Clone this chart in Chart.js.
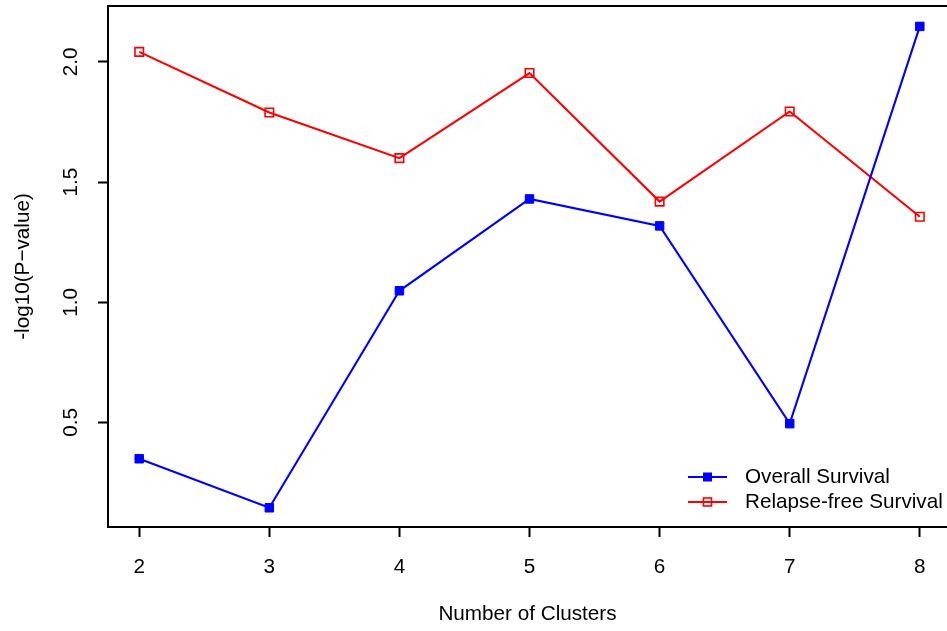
<!DOCTYPE html>
<html>
<head>
<meta charset="utf-8">
<script src="https://cdn.jsdelivr.net/npm/chart.js@4"></script>
<style>
  html, body { margin: 0; padding: 0; background: #fff; overflow: hidden; }
  #wrap { width: 947px; height: 631px; }
</style>
</head>
<body>
<div id="wrap"><canvas id="chart" width="947" height="631"></canvas></div>
<script>
const clusters = [2, 3, 4, 5, 6, 7, 8];
const overallSurvival = [0.349, 0.145, 1.048, 1.430, 1.318, 0.495, 2.148];
const relapseFree = [2.042, 1.790, 1.600, 1.954, 1.419, 1.794, 1.356];
const xTicks = [2, 3, 4, 5, 6, 7, 8];
const yTicks = [0.5, 1.0, 1.5, 2.0];
const yTickLabels = ['0.5', '1.0', '1.5', '2.0'];

const FONT = '"Liberation Sans", Arial, Helvetica, sans-serif';
const FSIZE = 20.7;

// box round the plot + rotated y labels + legend, drawn like R does it
const rStyle = {
  id: 'rStyle',
  afterDraw(chart) {
    const { ctx, chartArea: a } = chart;
    const y = chart.scales.y;
    ctx.save();
    ctx.strokeStyle = '#000';
    ctx.lineWidth = 2;
    ctx.beginPath();
    ctx.moveTo(a.right + 10, a.top);
    ctx.lineTo(a.left, a.top);
    ctx.lineTo(a.left, a.bottom);
    ctx.lineTo(a.right + 10, a.bottom);
    ctx.stroke();

    ctx.fillStyle = '#000';
    ctx.font = FSIZE + 'px ' + FONT;
    ctx.textAlign = 'center';
    ctx.textBaseline = 'middle';
    yTicks.forEach((v, i) => {
      ctx.save();
      ctx.translate(71.5, y.getPixelForValue(v));
      ctx.rotate(-Math.PI / 2);
      ctx.fillText(yTickLabels[i], 0, 0);
      ctx.restore();
    });

    // legend
    const rows = [477, 502];
    chart.data.datasets.forEach((ds, i) => {
      const ly = rows[i];
      ctx.strokeStyle = ds.borderColor;
      ctx.lineWidth = 2;
      ctx.beginPath();
      ctx.moveTo(688, ly);
      ctx.lineTo(727, ly);
      ctx.stroke();
      if (ds.pointBackgroundColor !== 'rgba(0,0,0,0)') {
        ctx.fillStyle = ds.borderColor;
        ctx.fillRect(703, ly - 4.5, 9, 9);
      } else {
        ctx.lineWidth = 1.6;
        ctx.strokeRect(703.5, ly - 4, 8, 8);
      }
      ctx.fillStyle = '#000';
      ctx.textAlign = 'left';
      ctx.fillText(ds.label, 745, ly);
    });
    ctx.restore();
  }
};

new Chart(document.getElementById('chart'), {
  type: 'line',
  data: {
    datasets: [
      {
        label: 'Overall Survival',
        data: clusters.map((c, i) => ({ x: c, y: overallSurvival[i] })),
        borderColor: '#0000ff',
        pointBackgroundColor: '#0000ff',
        pointBorderColor: '#0000ff',
        pointStyle: 'rect',
        pointRadius: 6,
        pointBorderWidth: 1,
        borderWidth: 2.1,
      },
      {
        label: 'Relapse-free Survival',
        data: clusters.map((c, i) => ({ x: c, y: relapseFree[i] })),
        borderColor: '#ff0000',
        pointBackgroundColor: 'rgba(0,0,0,0)',
        pointBorderColor: '#ff0000',
        pointStyle: 'rect',
        pointRadius: 6,
        pointBorderWidth: 1.6,
        borderWidth: 2.1,
      },
    ],
  },
  options: {
    responsive: false,
    animation: false,
    layout: { autoPadding: false, padding: { top: 6, right: 0, left: 0, bottom: 0 } },
    plugins: { legend: { display: false }, tooltip: { enabled: false } },
    scales: {
      x: {
        type: 'linear',
        min: 1.76,
        max: 8.209,
        afterFit: (s) => { s.height = 104; s.paddingLeft = 0; s.paddingRight = 0; },
        afterBuildTicks: (s) => { s.ticks = xTicks.map((v) => ({ value: v })); },
        grid: { drawOnChartArea: false, drawTicks: true, tickLength: 10, tickColor: '#000', tickWidth: 2 },
        border: { display: false },
        ticks: { color: '#000', font: { family: FONT, size: FSIZE }, padding: 18, maxRotation: 0 },
        title: { display: true, text: 'Number of Clusters', color: '#000', font: { family: FONT, size: FSIZE }, padding: { top: 0, bottom: 4 } },
      },
      y: {
        min: 0.065,
        max: 2.233,
        afterFit: (s) => { s.width = 108; s.paddingTop = 0; s.paddingBottom = 0; },
        afterBuildTicks: (s) => { s.ticks = yTicks.map((v) => ({ value: v })); },
        grid: { drawOnChartArea: false, drawTicks: true, tickLength: 10, tickColor: '#000', tickWidth: 2 },
        border: { display: false },
        ticks: { display: false },
        title: { display: true, text: '-log10(P\u2212value)', color: '#000', font: { family: FONT, size: FSIZE }, padding: { top: 11, bottom: 0 } },
      },
    },
  },
  plugins: [rStyle],
});
</script>
</body>
</html>
